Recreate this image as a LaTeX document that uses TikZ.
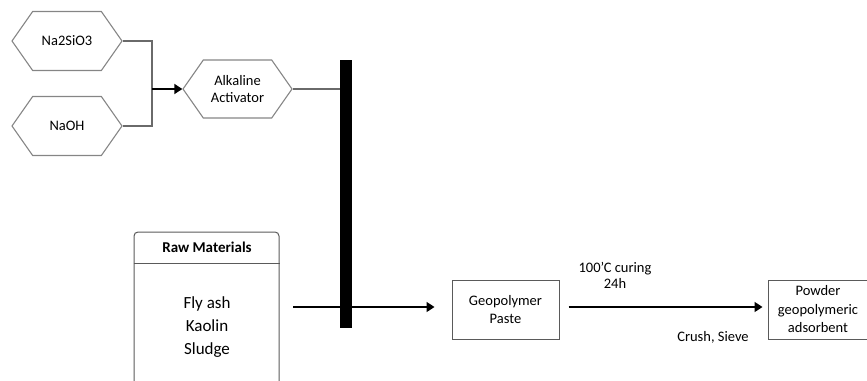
\documentclass[tikz,border=0pt]{standalone}
\usepackage{fontspec}
\setmainfont{Carlito}
\usetikzlibrary{arrows.meta,positioning,calc,shapes.symbols}
\definecolor{hexline}{HTML}{858585}
\definecolor{wire}{HTML}{6A6A6A}
\definecolor{boxline}{HTML}{5A5A5A}

\begin{document}
\begin{tikzpicture}[x=1pt,y=-1pt,
  hexbox/.style={draw=hexline,line width=1.1pt,shape=signal,signal to=west and east,
    signal pointer angle=110,inner sep=0pt,minimum width=110pt,minimum height=59pt,
    align=center,font=\fontsize{14.5}{17}\selectfont},
  stepbox/.style={draw=boxline,line width=1pt,inner sep=0pt,minimum width=107pt,
    minimum height=59pt,align=center,font=\fontsize{14.5}{18}\selectfont},
  wireline/.style={wire,line width=1.8pt},
  flow/.style={black,line width=1.6pt,-{Triangle[length=8pt,width=10pt]}},
  lab/.style={font=\fontsize{14.5}{16}\selectfont,align=center}]
  \useasboundingbox (0,0) rectangle (867,380);
  \clip (0,0) rectangle (867,380);
  % alkaline activator
  \node[hexbox] (na2) at (67,41) {Na2SiO3};
  \node[hexbox] (naoh) at (67,126) {NaOH};
  \node[hexbox,minimum width=109pt,minimum height=58pt] (alk) at (237.5,89) {Alkaline\\Activator};
  \coordinate (join) at (152,89);
  \draw[wireline] (na2.east) -| (join);
  \draw[wireline] (naoh.east) -| (join);
  \draw[wireline,-{Triangle[length=8pt,width=10pt]},black] (join) -- (alk.west);
  % raw materials
  \node[draw=boxline,line width=1pt,rounded corners=4pt,minimum width=145pt,minimum height=170pt] (raw) at (206.5,317) {};
  \node[font=\fontsize{15}{18}\selectfont\bfseries] (rawhead) at (207,247.5) {Raw Materials};
  \draw[boxline,line width=1pt] (raw.west |- 0,263) -- (raw.east |- 0,263);
  \node[font=\fontsize{17}{23}\selectfont,align=center] (rawlist) at (207,327) {Fly ash\\Kaolin\\Sludge};
  % products
  \node[stepbox] (paste) at (505.5,309.5) {Geopolymer\\Paste};
  \node[stepbox,minimum width=100pt,font=\fontsize{14.5}{18.5}\selectfont] (powder) at (818,309.5) {Powder\\geopolymeric\\adsorbent};
  \coordinate (rawout) at (293,307);
  \draw[flow,shorten >=17pt] (rawout) -- (rawout -| paste.west);
  \node[fill=black,inner sep=0pt,minimum width=12pt,minimum height=268pt] (bar) at (346,194) {};
  \draw[wireline] (alk.east) -- (alk.east -| bar.west);
  \draw[flow,shorten <=9pt,shorten >=5pt] (paste.east |- rawout) -- (powder.west |- rawout);
  \node[lab] (cure) at (615,275) {100{\char"0027}C curing\\24h};
  \node[lab] (crush) at (713,337) {Crush, Sieve};
\end{tikzpicture}
\end{document}
